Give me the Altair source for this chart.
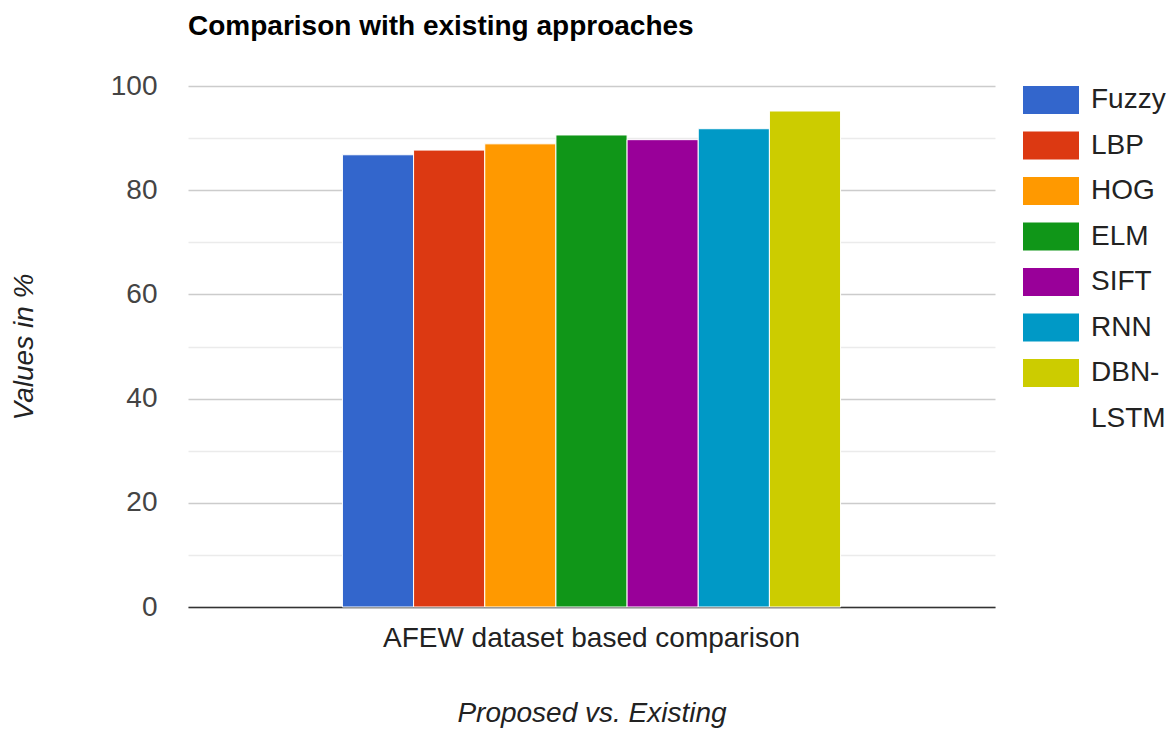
import altair as alt
import pandas as pd

methods = ["Fuzzy", "LBP", "HOG", "ELM", "SIFT", "RNN", "DBN-LSTM"]
values = [86.8, 87.7, 88.9, 90.6, 89.7, 91.8, 95.2]
colors = ["#3366cc", "#dc3912", "#ff9900", "#109618", "#990099", "#0099c6", "#cccc00"]
group = "AFEW dataset based comparison"

df = pd.DataFrame({"group": [group] * len(methods), "method": methods, "value": values})

FONT = "Liberation Sans"
FS = 28

chart = alt.Chart(df).mark_bar(stroke="white", strokeWidth=1).encode(
    x=alt.X("group:N", title="Proposed vs. Existing",
            scale=alt.Scale(paddingOuter=0.31, paddingInner=0),
            axis=alt.Axis(labelAngle=0, ticks=False, labelFontSize=FS, labelColor="#222",
                          labelPadding=17, labelLimit=800, titleFontSize=FS,
                          titleFontStyle="italic", titleFontWeight="normal",
                          titleColor="#222", titlePadding=47,
                          domainColor="#333", domainWidth=1.5)),
    xOffset=alt.XOffset("method:N", sort=methods, scale=alt.Scale(paddingInner=0.0)),
    y=alt.Y("value:Q", title="Values in %",
            scale=alt.Scale(domain=[0, 100], nice=False),
            axis=alt.Axis(values=list(range(0, 101, 10)), ticks=False, domain=False,
                          labelExpr="datum.value % 20 === 0 ? datum.label : ''",
                          labelFontSize=FS, labelColor="#444", labelPadding=31,
                          gridColor={"condition": {"test": "datum.value % 20 === 0", "value": "#cccccc"},
                                     "value": "#ebebeb"},
                          gridWidth=1.5,
                          titleFontSize=FS, titleFontStyle="italic", titleFontWeight="normal",
                          titleColor="#222", titlePadding=72)),
    color=alt.Color("method:N", sort=methods,
                    scale=alt.Scale(domain=methods, range=colors),
                    legend=alt.Legend(title=None, orient="right", offset=42,
                                      symbolType="M-2,-1H2V1H-2Z", symbolSize=784,
                                      symbolStrokeWidth=0, symbolOpacity=1,
                                      labelFontSize=FS, labelColor="#222", labelOffset=26,
                                      rowPadding=17.5, labelLimit=200,
                                      labelBaseline="middle",
                                      labelExpr="datum.label == 'DBN-LSTM' ? ['DBN-', 'LSTM'] : datum.label")),
).properties(
    width=807, height=521,
    title=alt.Title("Comparison with existing approaches", anchor="start", frame="group",
                    fontSize=FS, fontWeight="bold", color="#000", font=FONT, offset=31),
    autosize=alt.AutoSizeParams(type="none"),
    padding={"left": 188, "top": 86, "right": 179, "bottom": 122},
).configure(font=FONT, style={"guide-label": {"lineHeight": 46}}).configure_view(stroke=None)

chart.save("out.html", embed_options={"renderer": "svg", "actions": False})
